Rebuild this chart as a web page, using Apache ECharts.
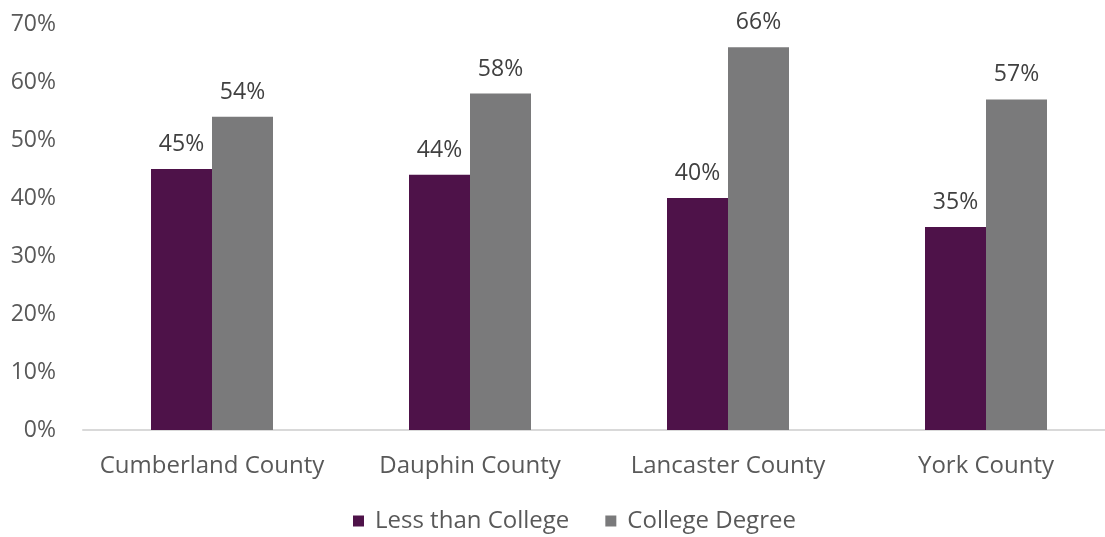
<!DOCTYPE html>
<html><head><meta charset="utf-8">
<script src="https://cdn.jsdelivr.net/npm/echarts@6/dist/echarts.min.js"></script>
<style>html,body{margin:0;padding:0;background:#fff;overflow:hidden}#c{width:1115px;height:537px}</style>
</head><body><div id="c"></div>
<script>
const categories = ['Cumberland County', 'Dauphin County', 'Lancaster County', 'York County'];
const lessThanCollege = [45, 44, 40, 35];
const collegeDegree = [54, 58, 66, 57];
const seriesNames = ['Less than College', 'College Degree'];

const chart = echarts.init(document.getElementById('c'));
const font = 'Open Sans';
const labelCfg = {show: true, position: 'top', distance: 13, formatter: '{c}%', color: '#404040', fontFamily: font, fontSize: 23};
chart.setOption({
  animation: false,
  grid: {left: 83, right: 0, top: 24, bottom: 107, containLabel: false},
  legend: {
    bottom: 4, left: 353, padding: 0, itemWidth: 11, itemHeight: 11, itemGap: 36,
    icon: 'rect',
    textStyle: {color: '#595959', fontFamily: font, fontSize: 24, padding: [0, 0, 0, 6]},
    data: seriesNames
  },
  xAxis: {
    type: 'category', data: categories,
    axisLine: {lineStyle: {color: '#d9d9d9', width: 2}},
    axisTick: {show: false},
    axisLabel: {interval: 0, color: '#595959', fontFamily: font, fontSize: 24, margin: 24}
  },
  yAxis: {
    type: 'value', min: 0, max: 70, interval: 10,
    axisLabel: {formatter: '{value}%', color: '#595959', fontFamily: font, fontSize: 23, margin: 27},
    splitLine: {show: false},
    axisLine: {show: false}, axisTick: {show: false}
  },
  series: [
    {name: seriesNames[0], type: 'bar', data: lessThanCollege, barWidth: 61, barGap: '0%',
     itemStyle: {color: '#4e1249'}, label: labelCfg},
    {name: seriesNames[1], type: 'bar', data: collegeDegree, barWidth: 61, barGap: '0%',
     itemStyle: {color: '#7a7a7b'}, label: labelCfg}
  ]
});
</script></body></html>
